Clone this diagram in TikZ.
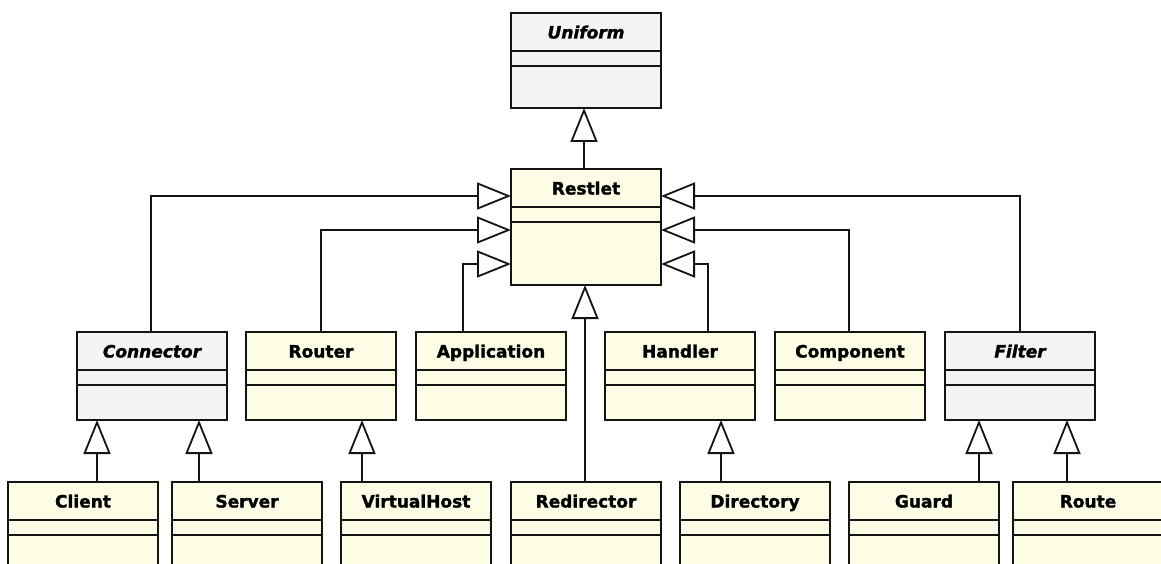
\documentclass[tikz,border=0pt]{standalone}
\usepackage{fontspec}
\setmainfont{DejaVu Sans}[BoldFeatures={FakeBold=1.6},BoldItalicFeatures={FakeBold=1.6}]
\usetikzlibrary{arrows.meta,calc}
\definecolor{clsyellow}{RGB}{253,252,228}
\definecolor{clsgray}{RGB}{244,244,244}
\definecolor{clsline}{RGB}{20,20,20}
\tikzset{
  cls/.style={draw=clsline, line width=2pt, minimum width=150pt, inner sep=0pt, outer sep=0pt, anchor=north},
  concrete/.style={cls, fill=clsyellow},
  abstract/.style={cls, fill=clsgray},
  ttl/.style={font=\bfseries\fontsize{17}{19}\selectfont, inner sep=0pt, anchor=base},
  attl/.style={font=\bfseries\itshape\fontsize{17}{19}\selectfont, inner sep=0pt, anchor=base},
  sep/.style={draw=clsline, line width=2pt},
  gen/.style={draw=clsline, line width=2pt, -{Triangle[length=34pt, width=27pt, fill=white, line width=1.8pt]}},
}
% #1 name, #2 cx, #3 top, #4 height, #5 style, #6 title style, #7 title
\newcommand\umlbox[7]{%
  \node[#5, minimum height=#4pt] (#1) at (#2,#3) {};
  \node[#6] (#1-t) at ($(#1.north)+(0,25.5)$) {#7};
  \draw[sep] ($(#1.north west)+(0,38)$) -- ($(#1.north east)+(0,38)$);
  \draw[sep] ($(#1.north west)+(0,53)$) -- ($(#1.north east)+(0,53)$);
}
\begin{document}
\begin{tikzpicture}[x=1pt, y=-1pt]
\useasboundingbox (0,0) rectangle (1161,564);
\clip (0,0) rectangle (1161,564);
\fill[white] (0,0) rectangle (1161,564);

\umlbox{uniform}{586}{13}{95}{abstract}{attl}{Uniform}
\umlbox{restlet}{586}{169}{116}{concrete}{ttl}{Restlet}

\umlbox{connector}{152}{332}{88}{abstract}{attl}{Connector}
\umlbox{router}{321}{332}{88}{concrete}{ttl}{Router}
\umlbox{application}{491}{332}{88}{concrete}{ttl}{Application}
\umlbox{handler}{680}{332}{88}{concrete}{ttl}{Handler}
\umlbox{component}{850}{332}{88}{concrete}{ttl}{Component}
\umlbox{filter}{1020}{332}{88}{abstract}{attl}{Filter}

\umlbox{client}{83}{482}{88}{concrete}{ttl}{Client}
\umlbox{server}{247}{482}{88}{concrete}{ttl}{Server}
\umlbox{virtualhost}{416}{482}{88}{concrete}{ttl}{VirtualHost}
\umlbox{redirector}{586}{482}{88}{concrete}{ttl}{Redirector}
\umlbox{directory}{755}{482}{88}{concrete}{ttl}{Directory}
\umlbox{guard}{924}{482}{88}{concrete}{ttl}{Guard}
\umlbox{route}{1088}{482}{88}{concrete}{ttl}{Route}

% Restlet -> Uniform
\coordinate (rt) at ($(restlet.north west)+(73,0)$);
\draw[gen] (rt) -- (rt |- uniform.south);

% into Restlet from the sides
\coordinate (rw1) at ($(restlet.north west)+(0,27)$);
\coordinate (rw2) at ($(restlet.north west)+(0,61)$);
\coordinate (rw3) at ($(restlet.north west)+(0,95)$);
\coordinate (re1) at ($(restlet.north east)+(0,27)$);
\coordinate (re2) at ($(restlet.north east)+(0,61)$);
\coordinate (re3) at ($(restlet.north east)+(0,95)$);

\coordinate (conn) at ($(connector.north west)+(74,0)$);
\draw[gen] (conn) |- (rw1);
\draw[gen] (router.north) |- (rw2);
\coordinate (appn) at ($(application.north west)+(47,0)$);
\draw[gen] (appn) |- (rw3);
\coordinate (hann) at ($(handler.north west)+(103,0)$);
\draw[gen] (hann) |- (re3);
\coordinate (comn) at ($(component.north west)+(74,0)$);
\draw[gen] (comn) |- (re2);
\draw[gen] (filter.north) |- (re1);

% Redirector -> Restlet
\coordinate (redn) at ($(redirector.north west)+(74,0)$);
\draw[gen] (redn) -- (redn |- restlet.south);

% lower generalizations
\coordinate (cln) at ($(client.north west)+(89,0)$);
\draw[gen] (cln) -- (cln |- connector.south);
\coordinate (srn) at ($(server.north west)+(27,0)$);
\draw[gen] (srn) -- (srn |- connector.south);
\coordinate (vhn) at ($(virtualhost.north west)+(21,0)$);
\draw[gen] (vhn) -- (vhn |- router.south);
\coordinate (dirn) at ($(directory.north west)+(41,0)$);
\draw[gen] (dirn) -- (dirn |- handler.south);
\coordinate (gdn) at ($(guard.north west)+(130,0)$);
\draw[gen] (gdn) -- (gdn |- filter.south);
\coordinate (rtn) at ($(route.north west)+(54,0)$);
\draw[gen] (rtn) -- (rtn |- filter.south);
\end{tikzpicture}
\end{document}
